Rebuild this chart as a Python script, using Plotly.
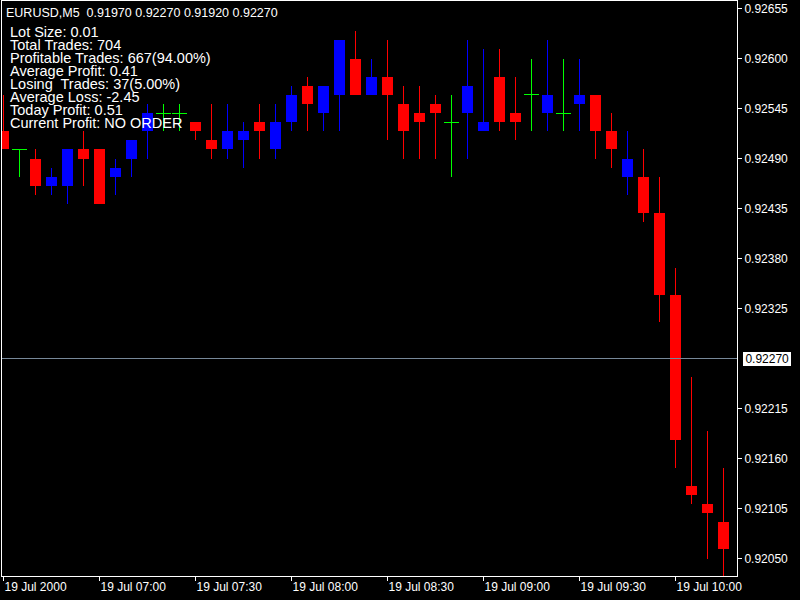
import plotly.graph_objects as go
import pandas as pd

# ---- data ----
times = [
    "2000-07-19 06:30", "2000-07-19 06:35", "2000-07-19 06:40", "2000-07-19 06:45",
    "2000-07-19 06:50", "2000-07-19 06:55", "2000-07-19 07:00", "2000-07-19 07:05",
    "2000-07-19 07:10", "2000-07-19 07:15", "2000-07-19 07:20", "2000-07-19 07:25",
    "2000-07-19 07:30", "2000-07-19 07:35", "2000-07-19 07:40", "2000-07-19 07:45",
    "2000-07-19 07:50", "2000-07-19 07:55", "2000-07-19 08:00", "2000-07-19 08:05",
    "2000-07-19 08:10", "2000-07-19 08:15", "2000-07-19 08:20", "2000-07-19 08:25",
    "2000-07-19 08:30", "2000-07-19 08:35", "2000-07-19 08:40", "2000-07-19 08:45",
    "2000-07-19 08:50", "2000-07-19 08:55", "2000-07-19 09:00", "2000-07-19 09:05",
    "2000-07-19 09:10", "2000-07-19 09:15", "2000-07-19 09:20", "2000-07-19 09:25",
    "2000-07-19 09:30", "2000-07-19 09:35", "2000-07-19 09:40", "2000-07-19 09:45",
    "2000-07-19 09:50", "2000-07-19 09:55", "2000-07-19 10:00", "2000-07-19 10:05",
    "2000-07-19 10:10", "2000-07-19 10:15",
]
opens = [
    0.9252, 0.9250, 0.9249, 0.9246, 0.9246, 0.9250, 0.9250, 0.9247, 0.9249, 0.9252,
    0.9254, 0.9254, 0.9253, 0.9251, 0.9250, 0.9251, 0.9253, 0.9250, 0.9253, 0.9257,
    0.9254, 0.9256, 0.9260, 0.9256, 0.9258, 0.9255, 0.9254, 0.9255, 0.9253, 0.9254,
    0.9252, 0.9258, 0.9254, 0.9256, 0.9254, 0.9254, 0.9255, 0.9256, 0.9252, 0.9247,
    0.9247, 0.9243, 0.9234, 0.9213, 0.9211, 0.9209,
]
highs = [
    0.9256, 0.9250, 0.9250, 0.9248, 0.9250, 0.9252, 0.9250, 0.9249, 0.9251, 0.9255,
    0.9255, 0.9255, 0.9253, 0.9255, 0.9255, 0.9253, 0.9255, 0.9255, 0.9257, 0.9258,
    0.9257, 0.9262, 0.9263, 0.9260, 0.9262, 0.9257, 0.9257, 0.9256, 0.9256, 0.9262,
    0.9261, 0.9261, 0.9258, 0.9260, 0.9262, 0.9260, 0.9260, 0.9256, 0.9254, 0.9252,
    0.9250, 0.9247, 0.9237, 0.9225, 0.9219, 0.9215,
]
lows = [
    0.9250, 0.9247, 0.9245, 0.9245, 0.9244, 0.9246, 0.9244, 0.9245, 0.9247, 0.9249,
    0.9252, 0.9252, 0.9251, 0.9249, 0.9249, 0.9248, 0.9249, 0.9249, 0.9252, 0.9252,
    0.9252, 0.9252, 0.9256, 0.9256, 0.9251, 0.9249, 0.9249, 0.9249, 0.9247, 0.9249,
    0.9252, 0.9252, 0.9251, 0.9252, 0.9252, 0.9252, 0.9252, 0.9249, 0.9248, 0.9245,
    0.9242, 0.9231, 0.9215, 0.9211, 0.9205, 0.9202,
]
closes = [
    0.9250, 0.9250, 0.9246, 0.9247, 0.9250, 0.9249, 0.9244, 0.9248, 0.9251, 0.9254,
    0.9254, 0.9254, 0.9252, 0.9250, 0.9252, 0.9252, 0.9252, 0.9253, 0.9256, 0.9255,
    0.9257, 0.9262, 0.9256, 0.9258, 0.9256, 0.9252, 0.9253, 0.9254, 0.9253, 0.9257,
    0.9253, 0.9253, 0.9253, 0.9256, 0.9256, 0.9254, 0.9256, 0.9252, 0.9250, 0.9249,
    0.9243, 0.9234, 0.9218, 0.9212, 0.9210, 0.9206,
]

price_ticks = [0.92655, 0.92600, 0.92545, 0.92490, 0.92435, 0.92380, 0.92325,
               0.92215, 0.92160, 0.92105, 0.92050]
time_tick_idx = [0, 6, 12, 18, 24, 30, 36, 42]
time_tick_labels = ["19 Jul 2000", "19 Jul 07:00", "19 Jul 07:30", "19 Jul 08:00",
                    "19 Jul 08:30", "19 Jul 09:00", "19 Jul 09:30", "19 Jul 10:00"]
bid_price = 0.92270
header_text = "EURUSD,M5  0.91970 0.92270 0.91920 0.92270"
info_lines = [
    "Lot Size: 0.01",
    "Total Trades: 704",
    "Profitable Trades: 667(94.00%)",
    "Average Profit: 0.41",
    "Losing\u00a0 Trades: 37(5.00%)",
    "Average Loss: -2.45",
    "Today Profit: 0.51",
    "Current Profit: NO ORDER",
]

# ---- styling ----
BULL = "#0000ff"
BEAR = "#ff0000"
DOJI = "#00ff00"
FG = "#ffffff"
FONT = "Liberation Sans, Arial, sans-serif"

x = pd.to_datetime(times)
bar_ms = 5 * 60 * 1000
body_w = bar_ms * 11 / 16

fig = go.Figure()

groups = {"bull": ([], BULL), "bear": ([], BEAR), "doji": ([], DOJI)}
for i in range(len(times)):
    if closes[i] > opens[i]:
        groups["bull"][0].append(i)
    elif closes[i] < opens[i]:
        groups["bear"][0].append(i)
    else:
        groups["doji"][0].append(i)

# wicks
for key, (idx, col) in groups.items():
    wx, wy = [], []
    for i in idx:
        wx += [x[i], x[i], None]
        wy += [lows[i], highs[i], None]
    fig.add_trace(go.Scatter(x=wx, y=wy, mode="lines",
                             line=dict(color=col, width=1),
                             hoverinfo="skip", showlegend=False))

# bodies
for key in ("bull", "bear"):
    idx, col = groups[key]
    fig.add_trace(go.Bar(
        x=[x[i] for i in idx],
        base=[min(opens[i], closes[i]) for i in idx],
        y=[abs(closes[i] - opens[i]) for i in idx],
        width=body_w,
        marker=dict(color=col, line=dict(width=0)),
        showlegend=False,
    ))

# doji crosses
idx, col = groups["doji"]
fig.add_trace(go.Scatter(
    x=[x[i] for i in idx], y=[opens[i] for i in idx], mode="markers",
    marker=dict(symbol="line-ew", size=11, line=dict(color=col, width=1)),
    showlegend=False,
))

# bid line
fig.add_hline(y=bid_price, line=dict(color="#778899", width=1))

# plot area 735 px wide -> 45.9375 bars; first bar centre 1.5 px inside
x0 = x[0] - pd.Timedelta(milliseconds=bar_ms * 0.09375)
x1 = x[0] + pd.Timedelta(milliseconds=bar_ms * (45.9375 - 0.09375))
# 575 px tall, 0.000011 per px
y_top = bid_price + 357.5 * 0.000011
y_bot = y_top - 575 * 0.000011

fig.update_layout(
    width=800, height=600,
    margin=dict(l=2, r=63, t=1, b=24),
    paper_bgcolor="#000000", plot_bgcolor="#000000",
    barmode="overlay", bargap=0,
    font=dict(family=FONT, color=FG, size=12),
    showlegend=False,
    xaxis=dict(
        type="date", range=[x0, x1],
        showgrid=False, zeroline=False,
        showline=True, linecolor=FG, linewidth=1, mirror=True,
        ticks="outside", ticklen=4, tickcolor=FG, tickwidth=1,
        tickvals=[x[i] for i in time_tick_idx], ticktext=time_tick_labels,
        ticklabelposition="outside right",
        tickfont=dict(family=FONT, size=12, color=FG),
    ),
    yaxis=dict(
        range=[y_bot, y_top], side="right",
        showgrid=False, zeroline=False,
        showline=True, linecolor=FG, linewidth=1, mirror=True,
        ticks="outside", ticklen=4, tickcolor=FG, tickwidth=1,
        tickvals=price_ticks, ticktext=[f"{v:.5f}" for v in price_ticks],
        tickfont=dict(family=FONT, size=12, color=FG),
    ),
)

def py_to_paper(py):
    return (576 - py) / 575

# header
fig.add_annotation(xref="paper", yref="paper", x=(6 - 2) / 735, y=py_to_paper(12.8),
                   xanchor="left", yanchor="middle", showarrow=False,
                   text=header_text, font=dict(family=FONT, size=12.5, color=FG),
                   borderpad=0, borderwidth=0)

for k, line in enumerate(info_lines):
    fig.add_annotation(xref="paper", yref="paper", x=(10 - 2) / 735,
                       y=py_to_paper(31.7 + 13.1 * k),
                       xanchor="left", yanchor="middle", showarrow=False,
                       text=line, font=dict(family=FONT, size=14.5, color=FG),
                       borderpad=0, borderwidth=0)

# bid price label
fig.add_annotation(xref="paper", yref="y", x=1, y=bid_price, xshift=6,
                   xanchor="left", yanchor="middle", showarrow=False,
                   text="\u2009" + f"{bid_price:.5f}" + "\u2009", bgcolor="#ffffff",
                   font=dict(family=FONT, size=12, color="#000000"),
                   borderpad=0, borderwidth=0)

crisp_css = (
    "var s=document.createElement('style');"
    "s.textContent='.scatterlayer path, .shapelayer path, .barlayer path"
    "{shape-rendering:crispEdges !important;}';"
    "document.head.appendChild(s);"
)

fig.write_html(
    "out.html",
    config={"displayModeBar": False},
    post_script="document.body.style.margin='0';document.body.style.padding='0';"
                + crisp_css +
                "window.dispatchEvent(new Event('resize'));",
)
